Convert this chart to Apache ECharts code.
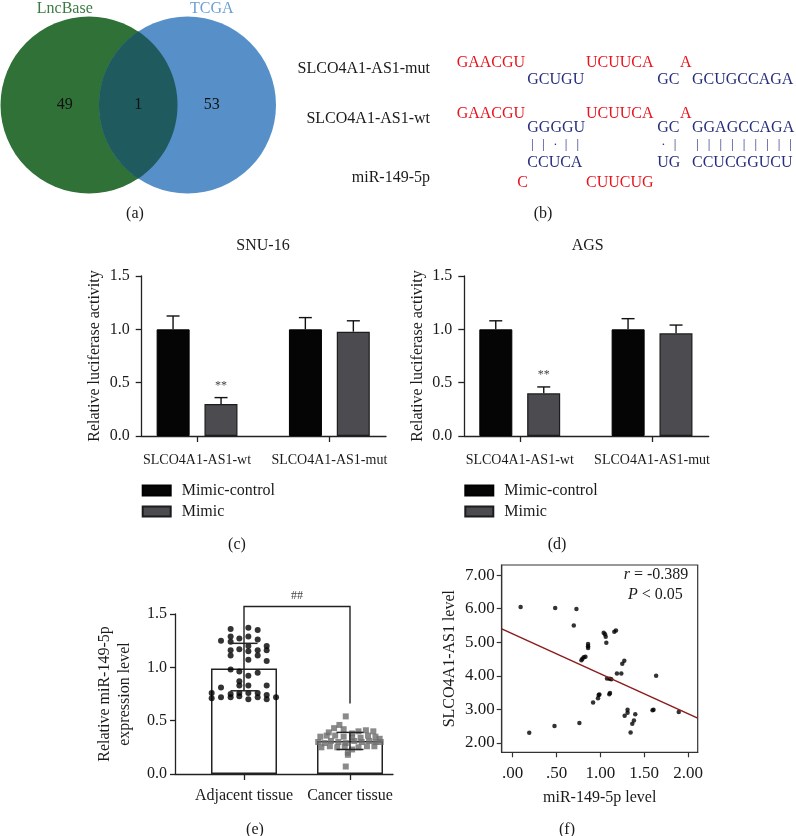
<!DOCTYPE html>
<html><head><meta charset="utf-8">
<script src="https://cdn.jsdelivr.net/npm/echarts@6/dist/echarts.min.js"></script>
<style>html,body{margin:0;padding:0;background:#fff}#c{width:796px;height:836px}</style>
</head><body><div id="c"></div>
<script>
// ================= DATA =================
// (a) Venn
const vennSets = ['LncBase', 'TCGA'];
const vennRegions = ['LncBase only', 'TCGA only', 'Both'];
const vennCounts = [49, 53, 1];

// (c)/(d) luciferase
const lucCategories = ['SLCO4A1-AS1-wt', 'SLCO4A1-AS1-mut'];
const lucSeriesNames = ['Mimic-control', 'Mimic'];
const lucYTicks = [0, 0.5, 1.0, 1.5];
const snuControl = [1.00, 1.00];
const snuControlTop = [1.125, 1.11];
const snuMimic = [0.30, 0.978];
const snuMimicTop = [0.36, 1.08];
const snuSig = ['**', ''];
const agsControl = [1.00, 1.00];
const agsControlTop = [1.08, 1.10];
const agsMimic = [0.40, 0.963];
const agsMimicTop = [0.46, 1.04];
const agsSig = ['**', ''];

// (e) tissue expression
const tissueCategories = ['Adjacent tissue', 'Cancer tissue'];
const tissueMean = [0.99, 0.31];
const tissueErrLow = [0.78, 0.23];
const tissueErrHigh = [1.225, 0.39];
const tissueBracket = [1.57, 0.66]; // bracket top, cancer-side end
const tissueSig = '##';
const adjacentJitter = [-0.126,0.041,0.129,-0.217,-0.126,-0.044,0.041,0.129,-0.126,0.041,0.214,-0.126,-0.044,0.041,0.129,0.214,-0.126,0.129,0.041,0.214,-0.126,-0.044,0.129,-0.044,0.041,-0.044,0.214,-0.217,0.041,-0.305,-0.126,-0.044,0.041,0.129,0.214,-0.305,-0.217,-0.126,-0.044,0.041,0.129,0.214,0.302];
const adjacentLevel  = [1.36,1.37,1.35,1.25,1.29,1.27,1.29,1.26,1.24,1.20,1.20,1.16,1.17,1.15,1.16,1.16,1.11,1.11,1.07,1.06,0.98,0.96,0.95,0.87,0.92,0.83,0.83,0.81,0.83,0.76,0.75,0.76,0.76,0.76,0.74,0.71,0.72,0.72,0.73,0.70,0.72,0.70,0.72];
const cancerJitter = [-0.04,-0.04,-0.10,-0.15,-0.06,0.08,0.15,0.22,-0.20,0.02,-0.28,-0.22,-0.14,-0.06,0.02,0.10,0.17,0.24,0.28,-0.30,-0.24,-0.18,-0.11,-0.04,0.04,0.11,0.18,0.24,0.29,-0.27,-0.19,-0.12,-0.05,0.02,0.08,0.16,0.23,-0.02,-0.02];
const cancerLevel  = [0.54,0.07,0.46,0.43,0.42,0.40,0.41,0.40,0.39,0.38,0.35,0.36,0.36,0.35,0.34,0.34,0.36,0.35,0.33,0.30,0.29,0.31,0.30,0.29,0.31,0.30,0.31,0.30,0.30,0.25,0.26,0.25,0.26,0.23,0.25,0.26,0.26,0.20,0.18];

// (f) correlation
const corrMiR = [0.091,0.485,0.727,0.697,0.189,0.477,0.761,0.784,0.795,0.811,0.830,0.860,0.860,0.860,0.917,0.973,0.981,0.989,1.038,1.053,1.061,1.068,1.076,1.106,1.125,1.102,1.110,1.159,1.178,1.189,1.239,1.250,1.273,1.277,1.310,1.310,1.398,1.345,1.364,1.383,1.595,1.606,1.636,1.894];
const corrLnc = [6.05,6.02,5.99,5.50,2.30,2.50,2.59,4.46,4.51,4.55,4.57,4.95,4.88,4.83,3.20,3.33,3.43,3.44,5.28,5.24,5.16,4.98,3.92,3.91,3.90,3.45,3.49,5.31,5.35,4.07,4.07,4.36,4.45,2.81,2.99,2.90,2.85,2.31,2.57,2.67,2.97,2.99,4.00,2.92];
const regIntercept = 5.25;
const regSlope = -1.19;
const corrXTicks = [0, 0.5, 1.0, 1.5, 2.0];
const corrYTicks = [2, 3, 4, 5, 6, 7];
const corrR = '-0.389';
const corrP = '0.05';

// ================= STYLE / LAYOUT =================
const SERIF = '"Liberation Serif", "Times New Roman", serif';
const TXT = '#1a1a1a';
const AX = '#222';
const RED = '#e8131c';
const NAVY = '#262d7d';
const vennLayout = { cxL: 89, cxR: 187.5, cy: 105, r: 88.5 };
const vennColors = ['#2f7137', '#5790c8', '#1f5a5f'];
const vennNameColors = ['#3d7a43', '#6b9fd4'];
const GREY_BAR = '#4b4b50';

const chart = echarts.init(document.getElementById('c'), null, {renderer: 'canvas', width: 796, height: 836});

function txt(text, x, y, opts) {
  opts = opts || {};
  return {type: 'text', x: x, y: y, silent: true, style: {
    text: text, fill: opts.color || TXT, fontSize: opts.size || 16, fontFamily: SERIF,
    fontStyle: opts.italic ? 'italic' : 'normal',
    align: opts.align || 'left', verticalAlign: 'middle', rich: opts.rich}};
}

// ---------- Venn render ----------
function vennRender(params, api) {
  const k = api.value(0), count = api.value(1);
  const cL = api.coord([vennLayout.cxL, vennLayout.cy]);
  const cR = api.coord([vennLayout.cxR, vennLayout.cy]);
  const r = Math.abs(api.size([vennLayout.r, 0])[0]);
  const cy = cL[1];
  const a = (cR[0] - cL[0]) / 2, h = Math.sqrt(r * r - a * a), mx = cL[0] + a;
  const A = Math.PI * r * r;
  const lens = 2 * (r * r * Math.acos(a / r) - a * h);
  const cresL = (A * cL[0] - lens * mx) / (A - lens);
  const cresR = (A * cR[0] - lens * mx) / (A - lens);
  const children = [];
  const lab = (x, y, t, col, size) => ({type: 'text', x: x, y: y, style: {text: t, fill: col, fontSize: size, fontFamily: SERIF, align: 'center', verticalAlign: 'middle'}});
  if (k === 0 || k === 1) {
    const c = k === 0 ? cL : cR;
    const lx = k === 0 ? cresL : cresR;
    children.push({type: 'circle', shape: {cx: c[0], cy: cy, r: r}, style: {fill: vennColors[k]}});
    children.push(lab(lx, cy, String(count), '#111', 16));
    children.push(lab(lx, cy - r - 8, vennSets[k], vennNameColors[k], 16));
  } else {
    const alpha = Math.atan2(h, a);
    const pts = [];
    const N = 60;
    for (let i = 0; i <= N; i++) { const t = -alpha + 2 * alpha * i / N; pts.push([cL[0] + r * Math.cos(t), cy + r * Math.sin(t)]); }
    for (let i = 0; i <= N; i++) { const t = -alpha + 2 * alpha * i / N; pts.push([cR[0] - r * Math.cos(t), cy - r * Math.sin(t)]); }
    children.push({type: 'polygon', shape: {points: pts}, style: {fill: vennColors[2]}});
    children.push(lab(mx, cy, String(count), '#111', 16));
  }
  return {type: 'group', children: children};
}

// ---------- helpers for bar panels ----------
function frameX(gi) {
  return {type: 'value', gridIndex: gi, min: 0, max: 1,
    axisLine: {show: true, onZero: false, lineStyle: {color: AX, width: 1.3}},
    axisTick: {show: false}, axisLabel: {show: false}, splitLine: {show: false}};
}
function frameY(gi, name, nameGap, margin, tickLen, lineH) {
  return {type: 'value', gridIndex: gi, min: 0, max: 1.5, interval: 0.5,
    axisLine: {show: true, lineStyle: {color: AX, width: 1.3}},
    axisTick: {show: true, length: tickLen, lineStyle: {color: AX, width: 1.3}},
    axisLabel: {fontSize: 16, fontFamily: SERIF, color: TXT, margin: margin, formatter: v => v.toFixed(1)},
    splitLine: {show: false},
    name: name, nameLocation: 'middle', nameGap: nameGap,
    nameTextStyle: {fontSize: 16, fontFamily: SERIF, color: TXT, lineHeight: lineH || 18}};
}
function catX(gi, cats, fontSize, margin) {
  return {type: 'category', gridIndex: gi, data: cats,
    axisLine: {show: false},
    axisTick: {show: true, alignWithLabel: true, length: 6, lineStyle: {color: AX, width: 1.3}},
    axisLabel: {fontSize: fontSize, fontFamily: SERIF, color: TXT, margin: margin, interval: 0},
    splitLine: {show: false}};
}
function hiddenY(gi) { return {type: 'value', gridIndex: gi, min: 0, max: 1.5, show: false}; }

function errUp(xi, yi, means, tops, offset, marks) {
  return {type: 'custom', xAxisIndex: xi, yAxisIndex: yi, z: 5, silent: true,
    data: means.map((m, i) => [i, m, tops[i]]),
    renderItem: function (params, api) {
      const i = api.value(0);
      const pb = api.coord([i, api.value(1)]);
      const pt = api.coord([i, api.value(2)]);
      const x = pb[0] + offset;
      const st = {stroke: '#111', lineWidth: 1.4};
      const ch = [
        {type: 'line', shape: {x1: x, y1: pb[1], x2: x, y2: pt[1]}, style: st},
        {type: 'line', shape: {x1: x - 6.5, y1: pt[1], x2: x + 6.5, y2: pt[1]}, style: st}
      ];
      if (marks && marks[i]) ch.push({type: 'text', x: x, y: pt[1] - 12, style: {text: marks[i], fill: '#444', fontSize: 12, fontFamily: SERIF, align: 'center', verticalAlign: 'middle'}});
      return {type: 'group', children: ch};
    }};
}
function barPair(xi, yi, ctrl, mimic) {
  return [
    {type: 'bar', name: lucSeriesNames[0], xAxisIndex: xi, yAxisIndex: yi, data: ctrl, barWidth: 33, barGap: '45%',
      itemStyle: {color: '#050505', borderColor: '#000', borderWidth: 1}, silent: true},
    {type: 'bar', name: lucSeriesNames[1], xAxisIndex: xi, yAxisIndex: yi, data: mimic, barWidth: 33, barGap: '45%',
      itemStyle: {color: GREY_BAR, borderColor: '#1c1c1c', borderWidth: 1.2}, silent: true}
  ];
}
function lucLegend(left) {
  return {left: left, top: 482, padding: 0, orient: 'vertical', itemWidth: 28, itemHeight: 10, itemGap: 4, icon: 'rect',
    selectedMode: false, data: lucSeriesNames,
    textStyle: {fontSize: 16, fontFamily: SERIF, color: TXT, padding: [0, 0, 0, 6], lineHeight: 17}};
}

const corrFmt = v => { const s = v.toFixed(2); return s.charAt(0) === '0' ? s.slice(1) : s; };
const fXMin = -0.125, fXMax = 2.11;

const option = {
  animation: false,
  backgroundColor: '#fff',
  grid: [
    {left: 0, top: 0, width: 280, height: 215},            // 0 venn
    {left: 141.7, top: 276, width: 244.3, height: 160},    // 1 c frame
    {left: 130.9, top: 276, width: 264.6, height: 160},    // 2 c data
    {left: 464.3, top: 276, width: 244.4, height: 160},    // 3 d frame
    {left: 453.6, top: 276, width: 264.6, height: 160},    // 4 d data
    {left: 175, top: 614, width: 218, height: 160},        // 5 e frame
    {left: 191, top: 614, width: 212, height: 160},        // 6 e data
    {left: 501.7, top: 565, width: 196, height: 187.3, show: true, borderColor: '#333', borderWidth: 1.2, backgroundColor: 'transparent'} // 7 f
  ],
  xAxis: [
    {type: 'value', gridIndex: 0, min: 0, max: 280, show: false},
    frameX(1),
    catX(2, lucCategories, 14, 17),
    frameX(3),
    catX(4, lucCategories, 14, 17),
    frameX(5),
    catX(6, tissueCategories, 16, 14),
    {type: 'value', gridIndex: 6, min: -0.5, max: 1.5, show: false},
    {type: 'value', gridIndex: 7, min: fXMin, max: fXMax,
      axisLine: {show: true, onZero: false, lineStyle: {color: '#333', width: 1.2}},
      axisTick: {show: true, customValues: corrXTicks, length: 5, lineStyle: {color: '#333', width: 1.2}},
      axisLabel: {customValues: corrXTicks, formatter: corrFmt, fontSize: 17, fontFamily: SERIF, color: TXT, margin: 13},
      splitLine: {show: false},
      name: 'miR-149-5p level', nameLocation: 'middle', nameGap: 37,
      nameTextStyle: {fontSize: 16, fontFamily: SERIF, color: TXT}}
  ],
  yAxis: [
    {type: 'value', gridIndex: 0, min: 0, max: 215, inverse: true, show: false},
    frameY(1, 'Relative luciferase activity', 38, 12, 6),
    hiddenY(2),
    frameY(3, 'Relative luciferase activity', 38, 12, 6),
    hiddenY(4),
    frameY(5, 'Relative miR-149-5p\nexpression level', 40, 8, 5, 20),
    hiddenY(6),
    {type: 'value', gridIndex: 7, min: 1.72, max: 7.30,
      axisLine: {show: true, onZero: false, lineStyle: {color: '#333', width: 1.2}},
      axisTick: {show: true, customValues: corrYTicks, length: 5, lineStyle: {color: '#333', width: 1.2}},
      axisLabel: {customValues: corrYTicks, formatter: v => v.toFixed(2), fontSize: 17, fontFamily: SERIF, color: TXT, margin: 7},
      splitLine: {show: false},
      name: 'SLCO4A1-AS1 level', nameLocation: 'middle', nameGap: 44,
      nameTextStyle: {fontSize: 16, fontFamily: SERIF, color: TXT}}
  ],
  legend: [lucLegend(141.7), lucLegend(464.3)],
  series: [
    // (a)
    {type: 'custom', xAxisIndex: 0, yAxisIndex: 0, silent: true,
      data: vennCounts.map((c, i) => [i, c]), renderItem: vennRender},
    // (c)
    ...barPair(2, 2, snuControl, snuMimic),
    errUp(2, 2, snuControl, snuControlTop, -24, null),
    errUp(2, 2, snuMimic, snuMimicTop, 24, snuSig),
    // (d)
    ...barPair(4, 4, agsControl, agsMimic),
    errUp(4, 4, agsControl, agsControlTop, -24, null),
    errUp(4, 4, agsMimic, agsMimicTop, 24, agsSig),
    // (e)
    {type: 'bar', xAxisIndex: 6, yAxisIndex: 6, data: tissueMean, barWidth: 66, z: 2, silent: true,
      itemStyle: {color: '#fff', borderColor: '#222', borderWidth: 1.5}},
    {type: 'scatter', xAxisIndex: 7, yAxisIndex: 6, z: 3, silent: true, symbol: 'circle', symbolSize: 6,
      data: adjacentLevel.map((v, i) => [0 + adjacentJitter[i], v]), itemStyle: {color: '#000'}},
    {type: 'scatter', xAxisIndex: 7, yAxisIndex: 6, z: 3, silent: true, symbol: 'rect', symbolSize: 6,
      data: cancerLevel.map((v, i) => [1 + cancerJitter[i], v]), itemStyle: {color: '#6d6d6d'}},
    {type: 'custom', xAxisIndex: 6, yAxisIndex: 6, z: 5, silent: true,
      data: tissueMean.map((m, i) => [i, tissueErrLow[i], tissueErrHigh[i]]),
      renderItem: function (params, api) {
        const i = api.value(0);
        const pl = api.coord([i, api.value(1)]), ph = api.coord([i, api.value(2)]);
        const x = pl[0], st = {stroke: '#222', lineWidth: 1.5}, w = 13.5;
        return {type: 'group', children: [
          {type: 'line', shape: {x1: x, y1: pl[1], x2: x, y2: ph[1]}, style: st},
          {type: 'line', shape: {x1: x - w, y1: pl[1], x2: x + w, y2: pl[1]}, style: st},
          {type: 'line', shape: {x1: x - w, y1: ph[1], x2: x + w, y2: ph[1]}, style: st}
        ]};
      }},
    {type: 'custom', xAxisIndex: 6, yAxisIndex: 6, z: 5, silent: true,
      data: [[0, tissueErrHigh[0], tissueBracket[0], tissueBracket[1]]],
      renderItem: function (params, api) {
        const p0 = api.coord([0, api.value(1)]), p1 = api.coord([0, api.value(2)]);
        const p2 = api.coord([1, api.value(2)]), p3 = api.coord([1, api.value(3)]);
        return {type: 'group', children: [
          {type: 'polyline', shape: {points: [p0, p1, p2, p3]}, style: {stroke: '#222', lineWidth: 1.4, fill: null}},
          {type: 'text', x: (p1[0] + p2[0]) / 2, y: p1[1] - 11, style: {text: tissueSig, fill: '#444', fontSize: 12, fontFamily: SERIF, align: 'center', verticalAlign: 'middle'}}
        ]};
      }},
    // (f)
    {type: 'scatter', xAxisIndex: 8, yAxisIndex: 7, silent: true, symbol: 'circle', symbolSize: 4.5,
      data: corrMiR.map((x, i) => [x, corrLnc[i]]), itemStyle: {color: '#000'}},
    {type: 'line', xAxisIndex: 8, yAxisIndex: 7, silent: true, symbol: 'none',
      data: [fXMin, fXMax].map(x => [x, regIntercept + regSlope * x]),
      lineStyle: {color: '#8b1c1c', width: 1.5}}
  ],
  graphic: [
    // (b) sequence alignment
    txt('SLCO4A1-AS1-mut', 430, 69, {align: 'right'}),
    txt('SLCO4A1-AS1-wt', 430, 119, {align: 'right'}),
    txt('miR-149-5p', 430, 178, {align: 'right'}),
    txt('GAACGU', 456.7, 63, {color: RED}), txt('UCUUCA', 586, 63, {color: RED}), txt('A', 680, 63, {color: RED}),
    txt('GCUGU', 527.3, 80, {color: NAVY}), txt('GC', 657.3, 80, {color: NAVY}), txt('GCUGCCAGA', 692, 80, {color: NAVY}),
    txt('GAACGU', 456.7, 114, {color: RED}), txt('UCUUCA', 586, 114, {color: RED}), txt('A', 680, 114, {color: RED}),
    txt('GGGGU', 527.3, 128, {color: NAVY}), txt('GC', 657.3, 128, {color: NAVY}), txt('GGAGCCAGA', 692, 128, {color: NAVY}),
    ...[[532.3, '|'], [543.3, '|'], [555.3, '·'], [566, '|'], [577.7, '|'], [663.3, '·'], [675, '|'],
        [697.3, '|'], [709, '|'], [720.7, '|'], [732.3, '|'], [744, '|'], [755.7, '|'], [767.3, '|'], [779, '|'], [790.5, '|']]
      .map(p => txt(p[1], p[0], 145, {color: NAVY, size: 13, align: 'center'})),
    txt('CCUCA', 527.3, 163, {color: NAVY}), txt('UG', 657.3, 163, {color: NAVY}), txt('CCUCGGUCU', 692, 163, {color: NAVY}),
    txt('C', 517.3, 183, {color: RED}), txt('CUUCUG', 586, 183, {color: RED}),
    // titles
    txt('SNU-16', 263, 246, {align: 'center'}),
    txt('AGS', 587.7, 246, {align: 'center'}),
    // (f) annotation
    txt('{i|r} = ' + corrR, 688.3, 574.5, {align: 'right', rich: {i: {fontStyle: 'italic', fontSize: 16, fontFamily: SERIF, fill: TXT}}}),
    txt('{i|P} < ' + corrP, 682.7, 594.5, {align: 'right', rich: {i: {fontStyle: 'italic', fontSize: 16, fontFamily: SERIF, fill: TXT}}}),
    // panel letters
    txt('(a)', 135, 214, {align: 'center'}),
    txt('(b)', 543, 214, {align: 'center'}),
    txt('(c)', 237, 545, {align: 'center'}),
    txt('(d)', 557, 545, {align: 'center'}),
    txt('(e)', 255, 830, {align: 'center'}),
    txt('(f)', 567, 830, {align: 'center'})
  ]
};
chart.setOption(option);
</script></body></html>
